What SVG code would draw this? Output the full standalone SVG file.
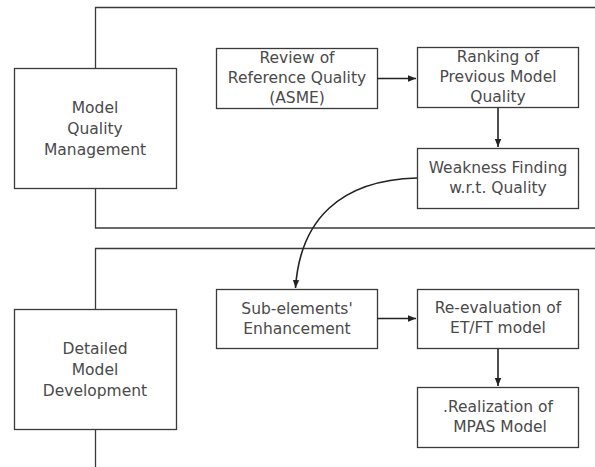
<svg xmlns="http://www.w3.org/2000/svg" width="595" height="467" viewBox="0 0 595 467">
<style>
.frame{fill:none;stroke:#3a3a3a;stroke-width:1.3}
.box{fill:#fff;stroke:#3a3a3a;stroke-width:1.3}
.t{font-family:"DejaVu Sans","Liberation Sans",Arial,sans-serif;font-size:15.5px;fill:#4a4a4a;text-anchor:middle}
.c{fill:none;stroke:#222;stroke-width:1.6}
</style>
<defs>
<marker id="ah" viewBox="0 0 10 10" refX="10" refY="5" markerWidth="8" markerHeight="8" markerUnits="userSpaceOnUse" orient="auto">
<path d="M0,1 L10,5 L0,9 z" fill="#222"/>
</marker>
</defs>
<g id="frames">
<path class="frame" d="M600,7.5 H95.5 V228 H600"/>
<path class="frame" d="M600,248.5 H95.5 V470"/>
</g>
<g id="mqm"><rect class="box" x="14.5" y="68.5" width="162" height="120"/>
<text class="t" x="95" y="113">Model</text><text class="t" x="95" y="134">Quality</text><text class="t" x="95" y="155">Management</text></g>
<g id="review"><rect class="box" x="216.5" y="48.5" width="161" height="60"/>
<text class="t" x="297" y="63">Review of</text><text class="t" x="297" y="83">Reference Quality</text><text class="t" x="297" y="103">(ASME)</text></g>
<g id="ranking"><rect class="box" x="417.5" y="47.5" width="161" height="60"/>
<text class="t" x="498" y="62">Ranking of</text><text class="t" x="498" y="82">Previous Model</text><text class="t" x="498" y="102">Quality</text></g>
<g id="weakness"><rect class="box" x="417.5" y="148.5" width="161" height="60"/>
<text class="t" x="498" y="173">Weakness Finding</text><text class="t" x="498" y="193">w.r.t. Quality</text></g>
<g id="dmd"><rect class="box" x="14.5" y="309.5" width="162" height="120"/>
<text class="t" x="95" y="354">Detailed</text><text class="t" x="95" y="375">Model</text><text class="t" x="95" y="396">Development</text></g>
<g id="sub"><rect class="box" x="216.5" y="289.5" width="161" height="59"/>
<text class="t" x="297" y="314">Sub-elements'</text><text class="t" x="297" y="334">Enhancement</text></g>
<g id="reeval"><rect class="box" x="417.5" y="289.5" width="161" height="59"/>
<text class="t" x="498" y="313">Re-evaluation of</text><text class="t" x="498" y="333">ET/FT model</text></g>
<g id="real"><rect class="box" x="417.5" y="387.5" width="161" height="60"/>
<text class="t" x="498" y="412">.Realization of</text><text class="t" x="500" y="432">MPAS Model</text></g>
<g id="connectors">
<path class="c" d="M377.5,78.5 H416" marker-end="url(#ah)"/>
<path class="c" d="M498,108 V147" marker-end="url(#ah)"/>
<path class="c" d="M417,178 C340,180 300,220 295.5,288" marker-end="url(#ah)"/>
<path class="c" d="M377.5,318.5 H416" marker-end="url(#ah)"/>
<path class="c" d="M498,349 V386" marker-end="url(#ah)"/>
</g>
</svg>
